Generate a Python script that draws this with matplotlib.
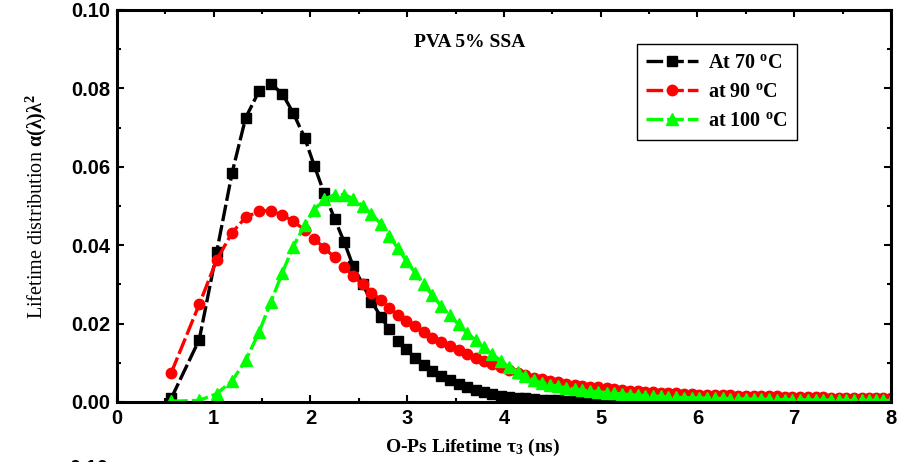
import matplotlib
matplotlib.use("Agg")
import matplotlib.pyplot as plt
from matplotlib.ticker import MultipleLocator, FormatStrFormatter

# o-Ps lifetime grid (ns), shared by all three temperatures
tau = [0.56, 0.85, 1.03, 1.19, 1.33, 1.47, 1.59, 1.71, 1.82, 1.94,
       2.04, 2.14, 2.25, 2.35, 2.44, 2.54, 2.63, 2.73, 2.81, 2.90,
       2.99, 3.08, 3.17, 3.26, 3.35, 3.44, 3.53, 3.62, 3.71, 3.79,
       3.88, 3.97, 4.05, 4.14, 4.22, 4.31, 4.39, 4.48, 4.56, 4.64,
       4.73, 4.81, 4.89, 4.97, 5.06, 5.14, 5.22, 5.30, 5.38, 5.46,
       5.54, 5.62, 5.70, 5.78, 5.86, 5.94, 6.02, 6.10, 6.18, 6.26,
       6.34, 6.42, 6.50, 6.58, 6.66, 6.74, 6.82, 6.90, 6.98, 7.06,
       7.14, 7.22, 7.30, 7.38, 7.46, 7.54, 7.62, 7.70, 7.77, 7.85,
       7.92, 8.00]

dist_70 = [0.0009, 0.0159, 0.0382, 0.0585, 0.0725, 0.0794, 0.0812, 0.0786, 0.0738, 0.0674,
           0.0602, 0.0534, 0.0467, 0.0407, 0.0347, 0.0300, 0.0256, 0.0217, 0.0186, 0.0156,
           0.0134, 0.0113, 0.0095, 0.0080, 0.0066, 0.0055, 0.0045, 0.0037, 0.0030, 0.0025,
           0.0020, 0.0016, 0.0013, 0.0011, 0.0009, 0.0007, 0.0006, 0.0005, 0.0004, 0.0003,
           0.0003, 0.0002, 0.0002, 0.0002, 0.0001, 0.0001, 0.0001, 0.0001, 0.0001, 0.0000,
           0.0000, 0.0000, 0.0000, 0.0000, 0.0000, 0.0000, 0.0000, 0.0000, 0.0000, 0.0000,
           0.0000, 0.0000, 0.0000, 0.0000, 0.0000, 0.0000, 0.0000, 0.0000, 0.0000, 0.0000,
           0.0000, 0.0000, 0.0000, 0.0000, 0.0000, 0.0000, 0.0000, 0.0000, 0.0000, 0.0000,
           0.0000, 0.0000]

dist_90 = [0.0074, 0.0249, 0.0362, 0.0432, 0.0471, 0.0487, 0.0488, 0.0477, 0.0461, 0.0439,
           0.0416, 0.0393, 0.0369, 0.0345, 0.0321, 0.0300, 0.0279, 0.0260, 0.0240, 0.0222,
           0.0207, 0.0193, 0.0179, 0.0164, 0.0153, 0.0142, 0.0132, 0.0122, 0.0113, 0.0105,
           0.0096, 0.0088, 0.0081, 0.0074, 0.0068, 0.0062, 0.0058, 0.0054, 0.0050, 0.0047,
           0.0044, 0.0041, 0.0039, 0.0037, 0.0035, 0.0033, 0.0031, 0.0029, 0.0028, 0.0026,
           0.0025, 0.0024, 0.0023, 0.0022, 0.0021, 0.0020, 0.0019, 0.0019, 0.0018, 0.0017,
           0.0017, 0.0016, 0.0016, 0.0015, 0.0015, 0.0014, 0.0014, 0.0013, 0.0013, 0.0013,
           0.0012, 0.0012, 0.0012, 0.0011, 0.0011, 0.0011, 0.0011, 0.0010, 0.0010, 0.0010,
           0.0010, 0.0010]

dist_100 = [0.0002, 0.0004, 0.0021, 0.0054, 0.0106, 0.0179, 0.0255, 0.0330, 0.0396, 0.0451,
            0.0491, 0.0517, 0.0529, 0.0529, 0.0519, 0.0500, 0.0479, 0.0454, 0.0424, 0.0393,
            0.0360, 0.0330, 0.0300, 0.0272, 0.0245, 0.0221, 0.0198, 0.0176, 0.0157, 0.0139,
            0.0122, 0.0105, 0.0089, 0.0077, 0.0066, 0.0055, 0.0049, 0.0044, 0.0040, 0.0036,
            0.0033, 0.0030, 0.0028, 0.0026, 0.0024, 0.0022, 0.0020, 0.0019, 0.0017, 0.0016,
            0.0015, 0.0014, 0.0013, 0.0012, 0.0011, 0.0011, 0.0010, 0.0010, 0.0009, 0.0009,
            0.0008, 0.0008, 0.0008, 0.0007, 0.0007, 0.0007, 0.0006, 0.0006, 0.0006, 0.0006,
            0.0005, 0.0005, 0.0005, 0.0005, 0.0005, 0.0004, 0.0004, 0.0004, 0.0004, 0.0004,
            0.0004, 0.0004]

labels = [r"At 70 $^{\mathbf{o}}$C", r"at 90 $^{\mathbf{o}}$C", r"at 100 $^{\mathbf{o}}$C"]

plt.rcParams["mathtext.fontset"] = "custom"
plt.rcParams["mathtext.rm"] = "Liberation Serif:bold"
plt.rcParams["mathtext.bf"] = "Liberation Serif:bold"
plt.rcParams["mathtext.it"] = "Liberation Serif:bold"

fig = plt.figure(figsize=(9.02, 4.62), dpi=100)
ax = fig.add_axes([0.1297, 0.1299, 0.8581, 0.8485])

dash = (5, 1.2)
ax.plot(tau, dist_70, color="black", lw=2.4, dashes=dash, marker="s", ms=7,
        label=labels[0])
ax.plot(tau, dist_90, color="#ff0000", lw=2.4, dashes=dash, marker="o", ms=7.5,
        label=labels[1])
ax.plot(tau, dist_100, color="#00ff00", lw=2.4, dashes=dash, marker="^", ms=8,
        label=labels[2])

ax.set_xlim(0, 8)
ax.set_ylim(0, 0.10)
ax.xaxis.set_major_locator(MultipleLocator(1))
ax.xaxis.set_minor_locator(MultipleLocator(0.5))
ax.yaxis.set_major_locator(MultipleLocator(0.02))
ax.yaxis.set_minor_locator(MultipleLocator(0.01))
ax.yaxis.set_major_formatter(FormatStrFormatter("%.2f"))

ax.tick_params(which="both", direction="in", top=True, right=True, width=1.5)
ax.tick_params(which="major", length=5, labelsize=14.5, pad=5)
ax.tick_params(which="minor", length=3)
for lab in ax.get_xticklabels() + ax.get_yticklabels():
    lab.set_fontfamily("Liberation Sans")
    lab.set_fontweight("bold")
for sp in ax.spines.values():
    sp.set_linewidth(2.2)

ax.set_xlabel(r"O-Ps Lifetime $\mathbf{\tau_3}$ (ns)", fontfamily="Liberation Serif",
              fontweight="bold", fontsize=14)
ax.xaxis.set_label_coords(0.46, -0.088)
ax.set_ylabel(r"Lifetime distribution $\mathbf{\alpha(\lambda)\lambda^2}$",
              fontfamily="Liberation Serif", fontsize=14.5)
ax.yaxis.set_label_coords(-0.088, 0.5)

ax.text(0.456, 0.916, "PVA 5% SSA", transform=ax.transAxes, ha="center", va="center",
        fontfamily="Liberation Serif", fontweight="bold", fontsize=14)

leg = ax.legend(loc="upper right", bbox_to_anchor=(0.8786, 0.913), borderaxespad=0,
                fancybox=False, framealpha=1, edgecolor="black", handlelength=2.6,
                prop={"family": "Liberation Serif", "weight": "bold", "size": 14.5},
                labelspacing=0.45, borderpad=0.45, handletextpad=0.5)
leg.get_frame().set_linewidth(1.0)

# leftover label from the panel below
fig.text(108 / 902, 3 / 462, "0.10", ha="right", va="top", fontfamily="Liberation Sans",
         fontweight="bold", fontsize=14.5)

fig.savefig("out.png", dpi=100)
